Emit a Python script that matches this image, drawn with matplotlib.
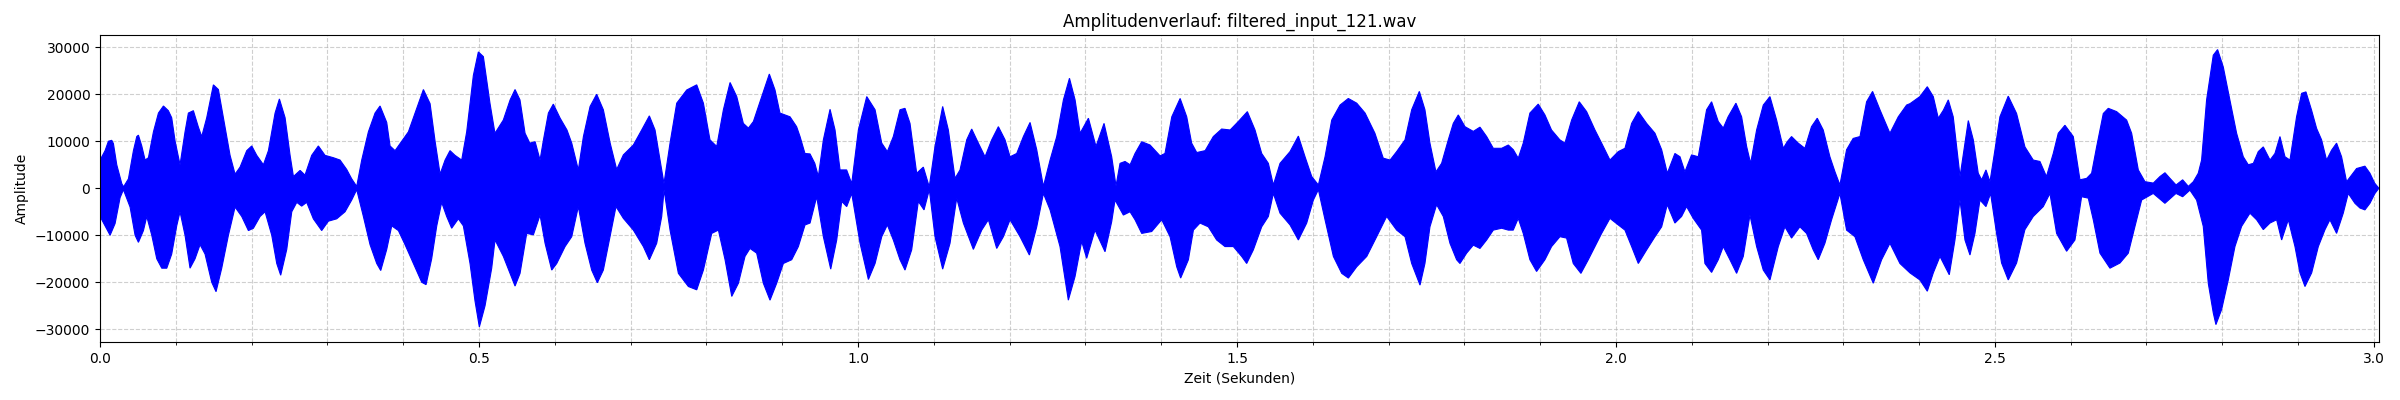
import numpy as np
import matplotlib
matplotlib.use("Agg")
import matplotlib.pyplot as plt
from matplotlib.ticker import MultipleLocator

file_name = "filtered_input_121.wav"
duration = 3.0066  # Sekunden

# Hüllkurve (obere Spitzen) des Signals
t_upper = [
    0.0, 0.0066, 0.011, 0.0154, 0.0176, 0.022, 0.0286, 0.031, 0.0374, 0.044,
    0.0484, 0.0506, 0.055, 0.0594, 0.0638, 0.0704, 0.077, 0.0836, 0.0901, 0.0945,
    0.099, 0.1055, 0.1121, 0.1165, 0.1231, 0.1297, 0.1341, 0.1407, 0.1495, 0.1561,
    0.1627, 0.1715, 0.1781, 0.1847, 0.1935, 0.2001, 0.2067, 0.2155, 0.2221, 0.2309,
    0.2366, 0.2441, 0.2507, 0.2551, 0.2639, 0.2704, 0.2792, 0.288, 0.2968, 0.3078,
    0.3166, 0.3254, 0.332, 0.3386, 0.3452, 0.354, 0.3628, 0.3694, 0.3782, 0.3826,
    0.3892, 0.398, 0.4068, 0.4156, 0.4266, 0.4354, 0.442, 0.4486, 0.4552, 0.4617,
    0.4683, 0.4771, 0.4837, 0.4925, 0.4991, 0.5057, 0.5145, 0.521, 0.532, 0.541,
    0.5475, 0.554, 0.5607, 0.567, 0.574, 0.5805, 0.585, 0.5915, 0.598, 0.607,
    0.616, 0.6223, 0.631, 0.6377, 0.6465, 0.6552, 0.664, 0.673, 0.6816, 0.6904,
    0.7036, 0.7146, 0.7247, 0.7322, 0.7388, 0.744, 0.752, 0.7608, 0.774, 0.7872,
    0.796, 0.8047, 0.8136, 0.8224, 0.8312, 0.84, 0.8487, 0.8554, 0.862, 0.8707,
    0.883, 0.8905, 0.897, 0.9103, 0.919, 0.9235, 0.93, 0.9367, 0.943, 0.9477,
    0.9543, 0.9631, 0.9697, 0.9763, 0.985, 0.9917, 1.0005, 1.0115, 1.0225, 1.0313,
    1.0387, 1.0466, 1.0554, 1.062, 1.0686, 1.0774, 1.0862, 1.094, 1.1016, 1.1117,
    1.1192, 1.128, 1.1346, 1.1434, 1.15, 1.1588, 1.1676, 1.1764, 1.1852, 1.194,
    1.2006, 1.2094, 1.2182, 1.227, 1.2358, 1.2446, 1.2534, 1.2622, 1.271, 1.279,
    1.2864, 1.293, 1.304, 1.314, 1.3246, 1.3347, 1.3404, 1.3457, 1.3523, 1.359,
    1.3655, 1.3743, 1.3853, 1.3985, 1.405, 1.414, 1.425, 1.4337, 1.4402, 1.4469,
    1.458, 1.4688, 1.4798, 1.491, 1.5018, 1.5137, 1.5238, 1.5326, 1.5414, 1.548,
    1.5568, 1.57, 1.581, 1.5898, 1.5986, 1.6074, 1.6162, 1.625, 1.636, 1.6469,
    1.658, 1.669, 1.682, 1.693, 1.702, 1.7107, 1.7217, 1.7305, 1.7406, 1.748,
    1.7546, 1.7625, 1.77, 1.7788, 1.7854, 1.792, 1.8008, 1.8118, 1.8206, 1.8294,
    1.8382, 1.8492, 1.858, 1.8646, 1.8711, 1.8777, 1.8865, 1.8975, 1.9063, 1.915,
    1.926, 1.9327, 1.9415, 1.9516, 1.9613, 1.9723, 1.9811, 1.9921, 2.0031, 2.0119,
    2.0207, 2.0295, 2.0405, 2.0515, 2.0603, 2.0678, 2.0778, 2.0845, 2.091, 2.0998,
    2.1086, 2.1196, 2.1262, 2.135, 2.1416, 2.148, 2.1583, 2.1658, 2.1724, 2.1777,
    2.1856, 2.1944, 2.2032, 2.212, 2.2208, 2.226, 2.2317, 2.2405, 2.2493, 2.258,
    2.2656, 2.2735, 2.2823, 2.289, 2.2955, 2.3043, 2.313, 2.322, 2.3307, 2.3386,
    2.3483, 2.3615, 2.3725, 2.3835, 2.388, 2.401, 2.4108, 2.4187, 2.4253, 2.432,
    2.4385, 2.445, 2.454, 2.4649, 2.4715, 2.478, 2.4825, 2.4882, 2.4935, 2.5,
    2.5066, 2.5176, 2.5286, 2.5396, 2.5506, 2.5594, 2.568, 2.577, 2.5836, 2.5924,
    2.6034, 2.6122, 2.621, 2.6276, 2.6342, 2.643, 2.6496, 2.6606, 2.6738, 2.6804,
    2.6892, 2.698, 2.709, 2.7178, 2.7244, 2.731, 2.739, 2.7477, 2.7552, 2.7618,
    2.7683, 2.7727, 2.7793, 2.7881, 2.7938, 2.8013, 2.81, 2.8189, 2.8277, 2.8343,
    2.841, 2.8475, 2.8541, 2.863, 2.8695, 2.8761, 2.8827, 2.8893, 2.898, 2.9047,
    2.9104, 2.9178, 2.9245, 2.931, 2.9376, 2.9442, 2.9508, 2.9574, 2.964, 2.9706,
    2.9772, 2.9882, 2.9948, 3.001, 3.0066,
]
amp_upper = [
    6000, 8000, 10000, 10200, 9500, 5000, 1000, 300, 2000, 8000,
    11000, 11300, 9000, 6000, 6500, 12000, 16000, 17500, 16500, 15000,
    10000, 5000, 12000, 16000, 16500, 13000, 11000, 15000, 22000, 21000,
    15000, 7000, 3000, 4500, 8000, 9000, 7000, 5000, 8000, 16000,
    19000, 15000, 7000, 2500, 3800, 2800, 7000, 9000, 7000, 6500,
    6000, 4000, 2000, 400, 6000, 12000, 16000, 17500, 14000, 9000,
    8000, 10000, 12000, 16000, 21000, 18000, 10000, 3000, 6000, 8000,
    7000, 6000, 12000, 24000, 29000, 28000, 18000, 11700, 14500, 18800,
    21000, 18800, 11700, 9600, 9900, 6000, 10300, 16000, 17900, 14900,
    12400, 9600, 3900, 11000, 17400, 20000, 16700, 9600, 4000, 7100,
    9200, 12400, 15400, 12400, 6000, 1000, 9600, 18100, 20900, 22000,
    18100, 10300, 8900, 16700, 22500, 19500, 13800, 12800, 14200, 18400,
    24300, 20900, 16000, 15200, 13100, 11000, 7400, 7300, 5300, 2500,
    10300, 16800, 12400, 3900, 3900, 1000, 12400, 19500, 16700, 9600,
    7800, 11000, 16700, 17000, 13800, 3200, 4500, 300, 8900, 17400,
    12400, 2100, 3900, 10300, 12600, 9600, 6700, 10300, 13100, 10300,
    6700, 7400, 11000, 14000, 8200, 400, 6000, 11000, 18800, 23400,
    18800, 11700, 14900, 8900, 13800, 6700, 500, 5300, 5700, 5000,
    7400, 9900, 9200, 6900, 7400, 15200, 19100, 15200, 9600, 7600,
    8000, 11000, 12600, 12400, 14200, 16300, 12400, 7400, 5300, 700,
    5300, 7800, 11100, 6700, 2500, 700, 6700, 14500, 17700, 19100,
    18100, 16000, 11700, 6400, 6000, 7800, 10300, 16700, 20600, 16700,
    9600, 3500, 5300, 10300, 13800, 15600, 13100, 12100, 13000, 11000,
    8500, 8500, 9200, 8200, 6400, 9600, 16000, 17900, 15600, 12400,
    10300, 9600, 14500, 18400, 16300, 12400, 9600, 6000, 7800, 8500,
    13800, 16300, 13800, 11700, 8200, 3200, 7400, 6700, 3500, 7100,
    6700, 16700, 18400, 14200, 12800, 15200, 18100, 15200, 8900, 5300,
    12400, 17700, 19500, 14500, 8500, 9900, 11000, 9600, 8500, 13100,
    14900, 12400, 6700, 3500, 700, 8200, 10600, 11000, 18400, 20600,
    16700, 11700, 15200, 17700, 18000, 19500, 21600, 19500, 14900, 16600,
    18800, 15200, 2500, 14400, 10300, 3200, 1800, 3900, 1400, 8100,
    15200, 19600, 15900, 8800, 6000, 5700, 2500, 7400, 11700, 13400,
    11000, 1800, 2100, 3200, 8800, 15900, 17000, 16300, 14500, 11700,
    3900, 1400, 1100, 2500, 3300, 2100, 700, 1800, 400, 1400,
    3200, 6000, 18800, 28300, 29500, 25800, 18800, 11700, 6700, 5000,
    5300, 7800, 8800, 6000, 7400, 11000, 6700, 6000, 15200, 20200,
    20500, 16600, 12700, 10300, 6000, 8100, 9600, 6700, 1400, 2800,
    4200, 4700, 3200, 1100, 0,
]

# Hüllkurve (untere Spitzen)
t_lower = [
    0.0, 0.0066, 0.0132, 0.0198, 0.0264, 0.0308, 0.0396, 0.0462, 0.0506, 0.0572,
    0.0616, 0.0682, 0.0748, 0.0814, 0.088, 0.0945, 0.1011, 0.1055, 0.1121, 0.1187,
    0.1253, 0.1319, 0.1385, 0.1473, 0.153, 0.1605, 0.1693, 0.1781, 0.1869, 0.1957,
    0.2023, 0.2111, 0.2177, 0.2265, 0.2331, 0.2383, 0.2463, 0.2529, 0.2595, 0.266,
    0.2726, 0.2814, 0.2924, 0.3012, 0.3122, 0.3232, 0.332, 0.3386, 0.3474, 0.3562,
    0.365, 0.3703, 0.3782, 0.3848, 0.3936, 0.4024, 0.4134, 0.4244, 0.4301, 0.4375,
    0.4442, 0.4507, 0.4573, 0.4639, 0.4727, 0.4793, 0.4881, 0.4947, 0.5004, 0.5079,
    0.5167, 0.5211, 0.5321, 0.5409, 0.5475, 0.5541, 0.5629, 0.5717, 0.5805, 0.5871,
    0.5959, 0.6025, 0.6135, 0.6223, 0.631, 0.6398, 0.6486, 0.6561, 0.664, 0.6728,
    0.6807, 0.6904, 0.7036, 0.7168, 0.7247, 0.7344, 0.741, 0.7441, 0.752, 0.763,
    0.7762, 0.7872, 0.796, 0.807, 0.8158, 0.8246, 0.8334, 0.8422, 0.8509, 0.8575,
    0.8663, 0.8751, 0.8839, 0.8927, 0.9015, 0.9125, 0.9213, 0.9301, 0.9367, 0.9455,
    0.9543, 0.964, 0.9719, 0.9785, 0.9851, 0.9917, 1.0027, 1.0137, 1.0225, 1.0313,
    1.0387, 1.0466, 1.0554, 1.062, 1.0708, 1.0796, 1.0871, 1.0941, 1.1016, 1.1117,
    1.1214, 1.1302, 1.139, 1.1522, 1.1632, 1.172, 1.183, 1.1918, 1.2006, 1.2138,
    1.2261, 1.2358, 1.2446, 1.2534, 1.2665, 1.2775, 1.2863, 1.2951, 1.3017, 1.3127,
    1.3259, 1.3347, 1.3391, 1.3501, 1.3589, 1.3655, 1.3743, 1.3875, 1.4007, 1.4117,
    1.4205, 1.4257, 1.4359, 1.4425, 1.4512, 1.4622, 1.4732, 1.4842, 1.4952, 1.5062,
    1.5128, 1.5216, 1.5326, 1.5414, 1.548, 1.5568, 1.57, 1.581, 1.592, 1.6008,
    1.6074, 1.6162, 1.6272, 1.6382, 1.647, 1.658, 1.6712, 1.6843, 1.6975, 1.7107,
    1.7217, 1.7305, 1.7415, 1.748, 1.7546, 1.7634, 1.7722, 1.781, 1.7898, 1.7942,
    1.803, 1.8118, 1.8206, 1.8294, 1.8382, 1.8492, 1.858, 1.8645, 1.8711, 1.8777,
    1.8865, 1.8953, 1.9063, 1.9151, 1.9261, 1.9349, 1.9437, 1.9538, 1.9635, 1.9723,
    1.9811, 1.9921, 2.0031, 2.0119, 2.0207, 2.0295, 2.0405, 2.0515, 2.0603, 2.0677,
    2.0778, 2.0866, 2.0932, 2.102, 2.113, 2.1174, 2.1262, 2.135, 2.1416, 2.1504,
    2.1592, 2.168, 2.1768, 2.1856, 2.1944, 2.2032, 2.2142, 2.2229, 2.2317, 2.2427,
    2.2515, 2.2603, 2.2669, 2.2757, 2.2845, 2.2955, 2.3043, 2.3153, 2.3263, 2.3395,
    2.3505, 2.3615, 2.3747, 2.3879, 2.4011, 2.4108, 2.4187, 2.4275, 2.4319, 2.4398,
    2.4473, 2.4539, 2.4605, 2.4671, 2.4737, 2.4803, 2.4882, 2.4943, 2.5022, 2.5088,
    2.5176, 2.5286, 2.5396, 2.5506, 2.5638, 2.5726, 2.5814, 2.5946, 2.6056, 2.6144,
    2.6232, 2.6298, 2.6386, 2.6518, 2.665, 2.676, 2.6848, 2.6936, 2.7089, 2.7243,
    2.7389, 2.7477, 2.7573, 2.7661, 2.7749, 2.7815, 2.7881, 2.7916, 2.7991, 2.8079,
    2.8167, 2.8255, 2.8365, 2.8453, 2.8541, 2.8629, 2.8717, 2.8783, 2.8871, 2.8959,
    2.9025, 2.9091, 2.9179, 2.9267, 2.9355, 2.942, 2.9508, 2.9596, 2.9662, 2.975,
    2.9816, 2.9882, 2.9948, 3.0014, 3.0066,
]
amp_lower = [
    -6000, -8000, -10000, -7500, -2000, -300, -4000, -10000, -11500, -9000,
    -6000, -10000, -15000, -17000, -17000, -14000, -8000, -5000, -10000, -17000,
    -15000, -12000, -14000, -20000, -22000, -17000, -10000, -4000, -6000, -9000,
    -8500, -6000, -5000, -10000, -16000, -18500, -13000, -5000, -3000, -3800,
    -3000, -6500, -9000, -7000, -6500, -5000, -2500, -300, -6000, -12000,
    -16000, -17500, -13000, -8000, -9000, -12000, -16000, -20000, -20500, -15000,
    -8000, -3000, -6000, -8500, -6500, -8000, -16000, -24000, -29500, -25000,
    -17000, -11000, -14500, -18100, -20800, -18100, -9600, -9900, -5700, -11700,
    -17400, -16000, -12400, -10300, -3900, -11700, -17400, -20100, -17400, -10300,
    -3900, -6400, -8900, -12400, -15200, -11700, -6000, -300, -8900, -18100,
    -20900, -21600, -17400, -9600, -8900, -15200, -23000, -20200, -14500, -12800,
    -13800, -20200, -23800, -20200, -16000, -15200, -12400, -7800, -7400, -1800,
    -10300, -17200, -11000, -2800, -3900, -1100, -11700, -19400, -16000, -10300,
    -7800, -11000, -15200, -17400, -13100, -2800, -4600, -300, -10300, -17200,
    -11700, -2100, -7400, -13000, -8900, -6700, -12800, -10300, -6700, -10300,
    -14200, -8200, -1100, -4600, -12400, -23800, -18800, -11300, -14900, -8900,
    -13500, -7100, -2500, -5700, -5000, -6700, -9600, -9200, -6700, -10300,
    -16700, -19100, -15200, -8900, -7400, -8200, -11000, -12400, -12400, -14500,
    -16000, -13100, -8200, -6000, -1100, -5300, -7800, -11000, -7400, -2500,
    -300, -6700, -14500, -18100, -19100, -16700, -14500, -10300, -6000, -8900,
    -10300, -16000, -20600, -16000, -8200, -3500, -6000, -11700, -15200, -16000,
    -13800, -12100, -12800, -11000, -8900, -8500, -8900, -8900, -6400, -9600,
    -15200, -17700, -15200, -12400, -10300, -10600, -16000, -18100, -15200, -12400,
    -9600, -6400, -7800, -8900, -12400, -16000, -13100, -10300, -8200, -3500,
    -7400, -6000, -3900, -6400, -8900, -16000, -17900, -15200, -12400, -15200,
    -18100, -14500, -5700, -12400, -17400, -19500, -12400, -8200, -10600, -8200,
    -9600, -13100, -15200, -11700, -6700, -1100, -8900, -10300, -15200, -20200,
    -15200, -11700, -16000, -18000, -19500, -21900, -18000, -14500, -15900, -18400,
    -11000, -2500, -11000, -14200, -9600, -2500, -3900, -1100, -9600, -15900,
    -19500, -15900, -8800, -6000, -3900, -1100, -9600, -13400, -11000, -1800,
    -2100, -6700, -13800, -17000, -15900, -13800, -8100, -2500, -1100, -3200,
    -1100, -1800, -400, -2500, -8100, -20200, -26500, -29000, -25800, -19500,
    -12400, -8100, -5300, -6700, -8800, -7400, -6700, -11000, -6700, -12400,
    -18000, -20900, -18000, -12400, -8800, -6700, -9600, -5300, -1100, -3200,
    -4200, -4600, -3200, -1100, 0,
]

x_major = [0.0, 0.5, 1.0, 1.5, 2.0, 2.5, 3.0]
y_major = [-30000, -20000, -10000, 0, 10000, 20000, 30000]

fig, ax = plt.subplots(figsize=(24, 4), dpi=100)

# Wellenform als gefüllte Fläche zwischen oberer und unterer Hüllkurve
poly_x = np.concatenate([t_upper, t_lower[::-1]])
poly_y = np.concatenate([amp_upper, amp_lower[::-1]])
ax.fill(poly_x, poly_y, color="blue", linewidth=0.8, zorder=2)

ax.set_xlim(0, duration)
ax.set_ylim(-32700, 32600)
ax.set_xticks(x_major)
ax.set_yticks(y_major)
ax.xaxis.set_minor_locator(MultipleLocator(0.1))
ax.grid(True, which="both", linestyle="--", alpha=0.6)

ax.set_title(f"Amplitudenverlauf: {file_name}")
ax.set_xlabel("Zeit (Sekunden)")
ax.set_ylabel("Amplitude")

plt.subplots_adjust(left=0.0417, right=0.9912, top=0.9125, bottom=0.145)
plt.savefig("out.png")
